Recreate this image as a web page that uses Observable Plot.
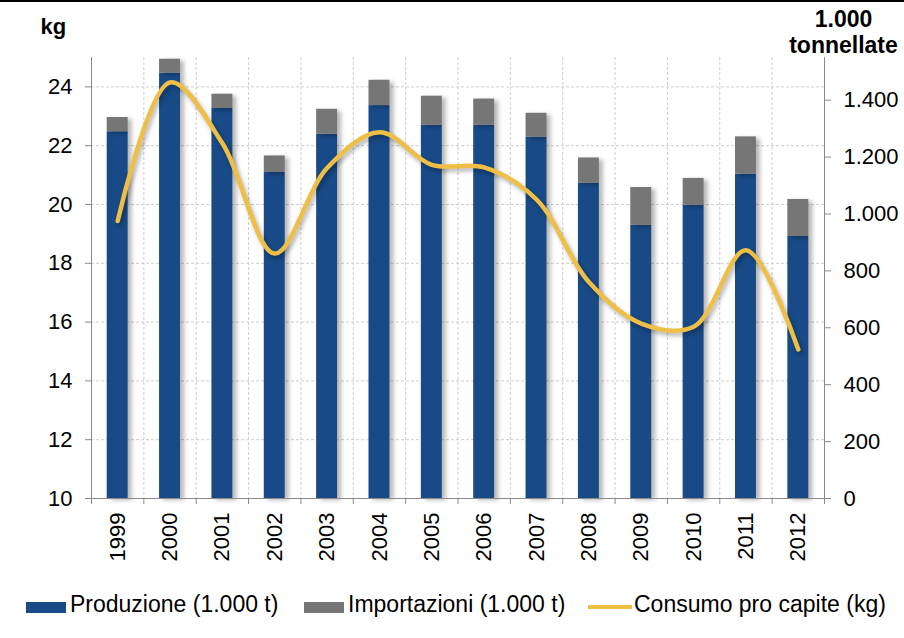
<!DOCTYPE html>
<html>
<head>
<meta charset="utf-8">
<script src="https://cdn.jsdelivr.net/npm/d3@7"></script>
<script src="https://cdn.jsdelivr.net/npm/@observablehq/plot@0.6"></script>
<style>
  html, body { margin: 0; padding: 0; background: #fff; }
  #wrap { position: relative; width: 904px; height: 638px; overflow: hidden; font-family: "Liberation Sans", Arial, sans-serif; }
  #topline { position: absolute; left: 0; top: 0; width: 904px; height: 2px; background: #000; }
  #chart { position: absolute; left: 0; top: 0; }
  .lg { position: absolute; font-size: 23px; line-height: 23px; color: #000; white-space: nowrap; }
  .sw { position: absolute; }
</style>
</head>
<body>
<div id="wrap">
  <div id="chart"></div>
  <div id="topline"></div>
  <div id="legend"></div>
</div>
<script>
// ---- Data ----
const years = [1999, 2000, 2001, 2002, 2003, 2004, 2005, 2006, 2007, 2008, 2009, 2010, 2011, 2012];
const produzione = [1289, 1495, 1371, 1146, 1280, 1381, 1312, 1312, 1270, 1108, 960, 1031, 1140, 921];
const importazioni = [50, 49, 50, 58, 88, 89, 102, 92, 84, 89, 133, 94, 131, 130];
const consumoKg = [19.44, 24.15, 22.08, 18.33, 21.24, 22.46, 21.35, 21.26, 20.17, 17.36, 15.95, 15.84, 18.44, 15.07];
const kgTicks = [10, 12, 14, 16, 18, 20, 22, 24];
const tonTicks = [0, 200, 400, 600, 800, 1000, 1200, 1400];
const seriesNames = ["Produzione (1.000 t)", "Importazioni (1.000 t)", "Consumo pro capite (kg)"];
const leftTitle = "kg";
const rightTitle = "1.000\ntonnellate";

// axis ranges
const KG_MIN = 10, KG_MAX = 25, T_MAX = 1550;
const toT = kg => (kg - KG_MIN) * T_MAX / (KG_MAX - KG_MIN);
const toKg = t => KG_MIN + t * (KG_MAX - KG_MIN) / T_MAX;

const BLUE = "#184a87", GRAY = "#767676", GOLD = "#efbf45", AXIS = "#8a8a8a", GRID = "#cdcdcd";

const rows = years.map((y, i) => ({ year: y, prod: produzione[i], imp: importazioni[i], kg: consumoKg[i] }));
const boundaries = [...years.map(y => y - 0.5), years[years.length - 1] + 0.5];
const innerBoundaries = boundaries.slice(1, -1);
const fmtDot = v => v >= 1000 ? d3.format(",")(v).replace(/,/g, ".") : String(v);

const chart = Plot.plot({
  width: 904,
  height: 585,
  marginTop: 57,
  marginBottom: 87,
  marginLeft: 91,
  marginRight: 80,
  style: { fontFamily: "'Liberation Sans', Arial, sans-serif", fontSize: "22px", color: "#000", background: "transparent" },
  x: { type: "linear", domain: [boundaries[0], boundaries[boundaries.length - 1]] },
  y: { domain: [0, T_MAX] },
  marks: [
    Plot.ruleY(kgTicks.slice(1), { y: k => toT(k), stroke: GRID, strokeDasharray: "3,2" }),
    Plot.ruleX(innerBoundaries, { stroke: GRID, strokeDasharray: "3,2" }),
    Plot.rectY(rows, { x1: d => d.year - 0.2, x2: d => d.year + 0.2, y1: 0, y2: "prod", fill: BLUE }),
    Plot.rectY(rows, { x1: d => d.year - 0.2, x2: d => d.year + 0.2, y1: "prod", y2: d => d.prod + d.imp, fill: GRAY }),
    Plot.line(rows, { x: "year", y: d => toT(d.kg), stroke: GOLD, strokeWidth: 4.5, curve: "catmull-rom", strokeLinecap: "round" }),
    Plot.ruleX([boundaries[0], boundaries[boundaries.length - 1]], { stroke: AXIS }),
    Plot.ruleY([0], { stroke: AXIS }),
    Plot.axisY(kgTicks.map(toT), { anchor: "left", tickSize: 6, tickPadding: 13, stroke: AXIS, label: null, tickFormat: t => String(Math.round(toKg(t))) }),
    Plot.axisY(tonTicks, { anchor: "right", tickSize: 6, tickPadding: 13, stroke: AXIS, label: null, tickFormat: fmtDot }),
    Plot.axisX(boundaries, { anchor: "bottom", tickSize: 6, stroke: AXIS, label: null, tickFormat: () => "" }),
    Plot.axisX(years, { anchor: "bottom", tickSize: 0, tickPadding: 14, tickRotate: -90, label: null, tickFormat: d => String(d) }),
    Plot.text([leftTitle], { frameAnchor: "top-left", textAnchor: "start", lineAnchor: "bottom", dx: -51, dy: -24, fontWeight: "bold", fontSize: 22 }),
    Plot.text([rightTitle], { frameAnchor: "top-right", textAnchor: "middle", lineAnchor: "bottom", dx: 19, dy: -5, fontWeight: "bold", fontSize: 23, lineHeight: 1.09 })
  ]
});
document.getElementById("chart").appendChild(chart);

// soft shadows like the original
chart.querySelectorAll('g[aria-label="rect"]').forEach(g => g.style.filter = "drop-shadow(4px 2px 2px rgba(0,0,0,0.28))");
chart.querySelectorAll('g[aria-label="line"]').forEach(g => g.style.filter = "drop-shadow(2px 3px 2px rgba(0,0,0,0.3))");

// ---- Legend (below the SVG) ----
const legend = document.getElementById("legend");
const items = [
  { name: seriesNames[0], color: BLUE, kind: "rect", sx: 26, tx: 70 },
  { name: seriesNames[1], color: GRAY, kind: "rect", sx: 304, tx: 348 },
  { name: seriesNames[2], color: GOLD, kind: "line", sx: 588, tx: 634 }
];
items.forEach(it => {
  const sw = document.createElement("div");
  sw.className = "sw";
  sw.style.left = it.sx + "px";
  sw.style.background = it.color;
  if (it.kind === "rect") { sw.style.top = "602px"; sw.style.width = "40px"; sw.style.height = "11px"; }
  else { sw.style.top = "605px"; sw.style.width = "44px"; sw.style.height = "4px"; }
  legend.appendChild(sw);
  const t = document.createElement("div");
  t.className = "lg";
  t.style.left = it.tx + "px";
  t.style.top = "593px";
  t.textContent = it.name;
  legend.appendChild(t);
});
</script>
</body>
</html>
